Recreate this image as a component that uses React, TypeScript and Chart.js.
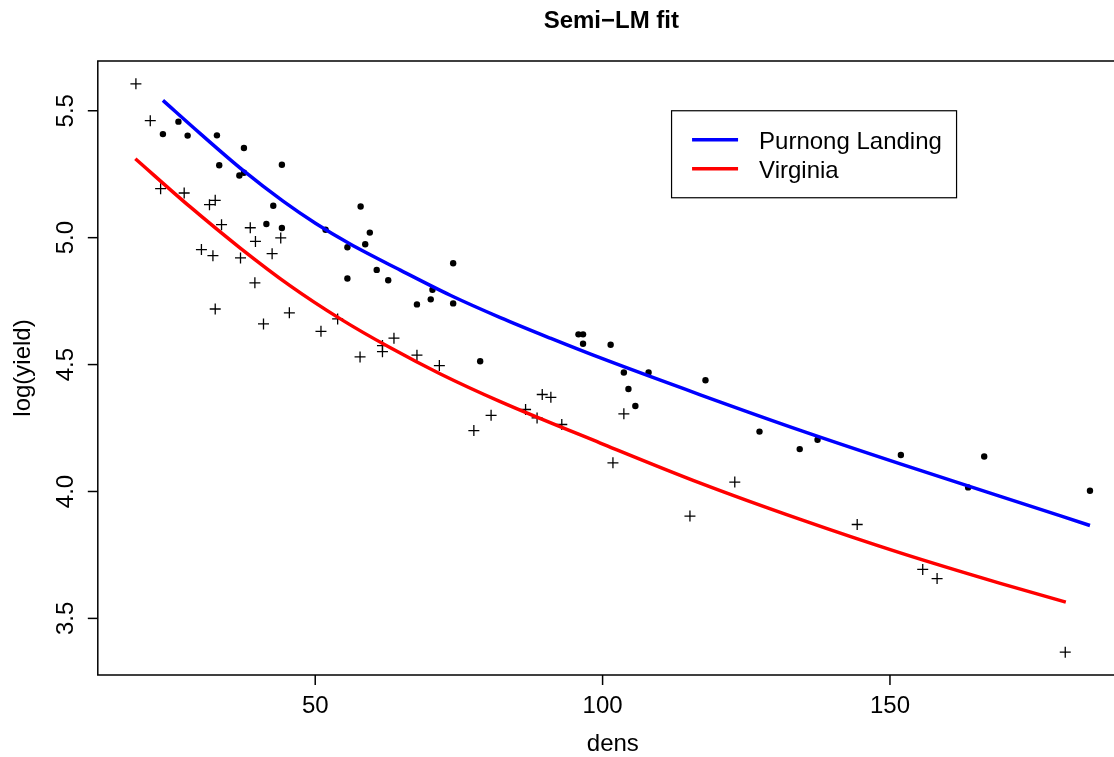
import React, { useEffect, useRef } from "react";
import { Chart, registerables } from "chart.js";

Chart.register(...registerables);

// ---- data ----
const purnongDens = [
  23.5, 26.2, 27.8, 32.9, 37.6, 33.3, 36.8, 37.6, 44.2, 42.7, 41.5, 44.2, 51.8, 55.6, 55.6,
  57.9, 59.5, 58.7, 60.7, 62.7, 74.0, 67.7, 70.1, 70.4, 74.0, 78.7, 95.8, 96.6, 96.6, 101.4,
  103.7, 104.5, 105.7, 108.0, 117.9, 127.3, 134.3, 137.4, 151.9, 163.6, 166.4, 184.8,
];
const purnongLogYield = [
  5.408, 5.457, 5.402, 5.403, 5.353, 5.285, 5.245, 5.256, 5.287, 5.126, 5.054, 5.038, 5.031, 4.962, 4.839,
  5.123, 5.02, 4.974, 4.873, 4.832, 4.899, 4.737, 4.757, 4.795, 4.741, 4.513, 4.619, 4.619, 4.582, 4.578,
  4.469, 4.404, 4.337, 4.469, 4.438, 4.236, 4.167, 4.204, 4.144, 4.016, 4.138, 4.003,
];
const virginiaDens = [
  18.8, 21.3, 23.1, 27.2, 31.6, 32.6, 33.7, 38.7, 39.6, 44.0, 30.2, 32.2, 37.0, 42.5, 39.5,
  32.6, 45.5, 41.0, 51.0, 53.9, 57.8, 61.7, 61.7, 63.7, 67.7, 71.6, 77.6, 80.6, 86.6, 88.6,
  89.5, 91.0, 92.9, 101.8, 103.7, 115.2, 123.0, 144.3, 155.7, 158.2, 180.5,
];
const virginiaLogYield = [
  5.606, 5.461, 5.193, 5.176, 5.13, 5.147, 5.051, 5.039, 4.985, 4.999, 4.953, 4.929, 4.92, 4.937, 4.822,
  4.719, 4.704, 4.66, 4.631, 4.68, 4.53, 4.575, 4.551, 4.604, 4.537, 4.496, 4.24, 4.3, 4.323, 4.29,
  4.382, 4.371, 4.264, 4.113, 4.306, 3.903, 4.037, 3.87, 3.693, 3.657, 3.367,
];

const purnongFitDens = [23.5, 30, 37.4, 44.4, 50.1, 56, 64.8, 73.5, 82.2, 90.9, 100.1, 117, 134.4, 151.8, 169.2, 184.8];
const purnongFitValues = [5.541, 5.41, 5.266, 5.144, 5.056, 4.976, 4.872, 4.773, 4.685, 4.604, 4.522, 4.381, 4.241, 4.109, 3.981, 3.866];
const virginiaFitDens = [18.7, 28.2, 36.9, 45.6, 54.3, 63, 71.7, 82.2, 99.6, 117, 134.4, 151.8, 169.2, 180.6];
const virginiaFitValues = [5.311, 5.122, 4.96, 4.811, 4.681, 4.567, 4.464, 4.354, 4.191, 4.033, 3.89, 3.758, 3.638, 3.564];

const seriesNames = ["Purnong Landing", "Virginia"];
const seriesColors = ["#0000ff", "#ff0000"];
const xTicks = [50, 100, 150];
const xTickLabels = ["50", "100", "150"];
const yTicks = [3.5, 4.0, 4.5, 5.0, 5.5];
const yTickLabels = ["3.5", "4.0", "4.5", "5.0", "5.5"];
const xRange = [12.17, 191.4];
const yRange = [3.277, 5.696];
const legendAnchor = [112, 5.5];
const titleText = "Semi\u2212LM fit";
const xTitle = "dens";
const yTitle = "log(yield)";

const FONT = '"Liberation Sans", Arial, Helvetica, sans-serif';

const CANVAS_W = 1150;
const CANVAS_H = 757;

const rPlotPlugin = {
  id: "rPlot",
  afterDraw(chart: any) {
    const ctx = chart.ctx as CanvasRenderingContext2D;
    const { left, right, top, bottom } = chart.chartArea;
    const xs = chart.scales.x;
    const ys = chart.scales.y;
    ctx.save();
    ctx.strokeStyle = "#000";
    ctx.fillStyle = "#000";
    ctx.lineWidth = 1.5;
    // box
    ctx.strokeRect(left, top, right - left, bottom - top);
    // x ticks
    ctx.font = `24px ${FONT}`;
    ctx.textAlign = "center";
    ctx.textBaseline = "alphabetic";
    xTicks.forEach((v, i) => {
      const px = xs.getPixelForValue(v);
      ctx.beginPath();
      ctx.moveTo(px, bottom);
      ctx.lineTo(px, bottom + 10);
      ctx.stroke();
      ctx.fillText(xTickLabels[i], px, 713);
    });
    // y ticks
    yTicks.forEach((v, i) => {
      const py = ys.getPixelForValue(v);
      ctx.beginPath();
      ctx.moveTo(left, py);
      ctx.lineTo(left - 10, py);
      ctx.stroke();
      ctx.save();
      ctx.translate(73, py);
      ctx.rotate(-Math.PI / 2);
      ctx.fillText(yTickLabels[i], 0, 0);
      ctx.restore();
    });
    // axis titles
    const cx = (left + right) / 2;
    const cy = (top + bottom) / 2;
    ctx.fillText(xTitle, cx, 751);
    ctx.save();
    ctx.translate(30, cy);
    ctx.rotate(-Math.PI / 2);
    ctx.fillText(yTitle, 0, 0);
    ctx.restore();
    // main title
    ctx.font = `bold 24px ${FONT}`;
    ctx.fillText(titleText, cx - 1.5, 28);

    // legend
    const lx = xs.getPixelForValue(legendAnchor[0]);
    const ly = ys.getPixelForValue(legendAnchor[1]);
    const lw = 285;
    const lh = 87;
    ctx.lineWidth = 1.2;
    ctx.fillStyle = "#fff";
    ctx.fillRect(lx, ly, lw, lh);
    ctx.strokeRect(lx, ly, lw, lh);
    ctx.font = `24px ${FONT}`;
    ctx.textAlign = "left";
    seriesNames.forEach((name, i) => {
      const yy = ly + 29 + i * 29;
      ctx.strokeStyle = seriesColors[i];
      ctx.lineWidth = 3.5;
      ctx.beginPath();
      ctx.moveTo(lx + 20.5, yy);
      ctx.lineTo(lx + 66.5, yy);
      ctx.stroke();
      ctx.fillStyle = "#000";
      ctx.fillText(name, lx + 87.5, yy + 9);
    });
    ctx.restore();
  },
};

export default function App() {
  const ref = useRef<HTMLCanvasElement | null>(null);
  useEffect(() => {
    if (!ref.current) return;
    const toXY = (xsArr: number[], ysArr: number[]) => xsArr.map((x, i) => ({ x, y: ysArr[i] }));
    const chart = new Chart(ref.current, {
      type: "scatter",
      data: {
        datasets: [
          {
            label: seriesNames[0] + " fit",
            data: toXY(purnongFitDens, purnongFitValues),
            showLine: true,
            borderColor: seriesColors[0],
            borderWidth: 3.5,
            pointRadius: 0,
            cubicInterpolationMode: "monotone",
            order: 0,
          },
          {
            label: seriesNames[1] + " fit",
            data: toXY(virginiaFitDens, virginiaFitValues),
            showLine: true,
            borderColor: seriesColors[1],
            borderWidth: 3.5,
            pointRadius: 0,
            cubicInterpolationMode: "monotone",
            order: 0,
          },
          {
            label: seriesNames[0],
            data: toXY(purnongDens, purnongLogYield),
            pointStyle: "circle",
            pointRadius: 3.2,
            backgroundColor: "#000",
            borderColor: "#000",
            borderWidth: 0,
            order: 1,
          },
          {
            label: seriesNames[1],
            data: toXY(virginiaDens, virginiaLogYield),
            pointStyle: "cross",
            pointRadius: 5.5,
            borderColor: "#000",
            backgroundColor: "#000",
            borderWidth: 1.3,
            order: 1,
          },
        ],
      },
      options: {
        animation: false,
        responsive: false,
        maintainAspectRatio: false,
        devicePixelRatio: 1,
        layout: { padding: { left: 97.8, top: 61, right: CANVAS_W - 1127.9, bottom: 82 } },
        plugins: { legend: { display: false }, title: { display: false }, tooltip: { enabled: false } },
        events: [],
        scales: {
          x: { type: "linear", min: xRange[0], max: xRange[1], display: false },
          y: { type: "linear", min: yRange[0], max: yRange[1], display: false },
        },
      },
      plugins: [rPlotPlugin],
    } as any);
    return () => chart.destroy();
  }, []);
  return (
    <div style={{ position: "fixed", left: 0, top: 0, width: 1114, height: 757, overflow: "hidden", background: "#fff" }}>
      <canvas ref={ref} width={CANVAS_W} height={CANVAS_H} style={{ position: "absolute", left: 0, top: 0, width: CANVAS_W, height: CANVAS_H }} />
    </div>
  );
}
